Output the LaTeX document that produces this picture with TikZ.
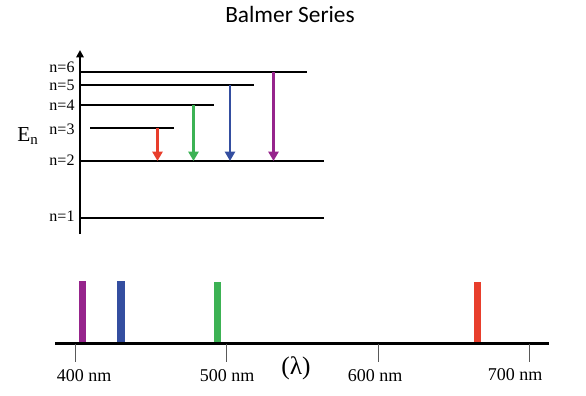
\documentclass[tikz,border=0pt]{standalone}
\usepackage{fontspec}
\setmainfont{Liberation Serif}
\newfontfamily\titlefont{Carlito}
\usetikzlibrary{arrows.meta}
\definecolor{lred}{RGB}{232,62,44}
\definecolor{lgreen}{RGB}{60,178,84}
\definecolor{lblue}{RGB}{52,78,160}
\definecolor{lpurple}{RGB}{150,36,140}
\tikzset{
  level/.style={line width=1.6pt},
  lvllabel/.style={font=\fontsize{12}{12}\selectfont, inner sep=0pt},
  trans/.style={line width=1.7pt, -{Triangle[width=7.5pt,length=7pt]}},
  specline/.style={line width=5.5pt},
  tick/.style={line width=0.7pt, gray!70!black},
  nmlabel/.style={font=\fontsize{13.5}{13.5}\selectfont, inner sep=0pt}
}
\begin{document}
\begin{tikzpicture}[x=0.75pt,y=-0.75pt]
\useasboundingbox (0,0) rectangle (586,396);
% title
\node[font=\titlefont\fontsize{17.5}{17.5}\selectfont] (title) at (290,14) {Balmer Series};
% energy axis
\coordinate (ax0) at (80,234);
\coordinate (ax1) at (80,50);
\draw[line width=1.6pt, -{Triangle[width=5.5pt,length=5.5pt]}] (ax0) -- (ax1);
\node[font=\fontsize{16}{16}\selectfont] (En) at (28,136) {E$_\mathrm{n}$};
% levels
\coordinate (l6a) at (80,72); \coordinate (l6b) at (307,72);
\coordinate (l5a) at (80,85); \coordinate (l5b) at (254,85);
\coordinate (l4a) at (80,105); \coordinate (l4b) at (214,105);
\coordinate (l3a) at (90,128); \coordinate (l3b) at (174,128);
\coordinate (l2a) at (80,161); \coordinate (l2b) at (324,161);
\coordinate (l1a) at (80,218); \coordinate (l1b) at (324,218);
\draw[level] (l6a) -- (l6b);
\draw[level] (l5a) -- (l5b);
\draw[level] (l4a) -- (l4b);
\draw[level] (l3a) -- (l3b);
\draw[level] (l2a) -- (l2b);
\draw[level] (l1a) -- (l1b);
\node[lvllabel] (n6) at (62,67) {n=6};
\node[lvllabel] (n5) at (62,85) {n=5};
\node[lvllabel] (n4) at (62,105) {n=4};
\node[lvllabel] (n3) at (62,129) {n=3};
\node[lvllabel] (n2) at (62,160) {n=2};
\node[lvllabel] (n1) at (62,216.5) {n=1};
% transitions
\coordinate (r0) at (157.5,128); \coordinate (r1) at (157.5,161);
\coordinate (g0) at (193.5,105); \coordinate (g1) at (193.5,161);
\coordinate (b0) at (230,85); \coordinate (b1) at (230,161);
\coordinate (p0) at (273.5,72); \coordinate (p1) at (273.5,161);
\draw[trans, lred] (r0) -- (r1);
\draw[trans, lgreen] (g0) -- (g1);
\draw[trans, lblue] (b0) -- (b1);
\draw[trans, lpurple] (p0) -- (p1);
% spectrum axis
\coordinate (s0) at (55,343.5); \coordinate (s1) at (549,343.5);
\draw[line width=1.6pt] (s0) -- (s1);
\foreach \x/\n in {75.7/400,226.7/500,378.3/600,529.3/700}{
  \coordinate (t\n a) at (\x,344); \coordinate (t\n b) at (\x,362);
  \draw[tick] (t\n a) -- (t\n b);
}
\node[nmlabel] (w400) at (84,376) {400 nm};
\node[nmlabel] (w500) at (227,376) {500 nm};
\node[nmlabel] (w600) at (375,376) {600 nm};
\node[nmlabel] (w700) at (515,374.5) {700 nm};
\node[font=\fontsize{19}{19}\selectfont, inner sep=0pt] (lam) at (296,368) {(λ)};
% spectral lines
\coordinate (sp0) at (82.3,281); \coordinate (sp1) at (82.3,342);
\coordinate (sb0) at (121,281); \coordinate (sb1) at (121,342);
\coordinate (sg0) at (217.7,282); \coordinate (sg1) at (217.7,342);
\coordinate (sr0) at (477.7,282); \coordinate (sr1) at (477.7,342);
\draw[specline, lpurple] (sp0) -- (sp1);
\draw[specline, lblue] (sb0) -- (sb1);
\draw[specline, lgreen] (sg0) -- (sg1);
\draw[specline, lred] (sr0) -- (sr1);
\end{tikzpicture}
\end{document}
